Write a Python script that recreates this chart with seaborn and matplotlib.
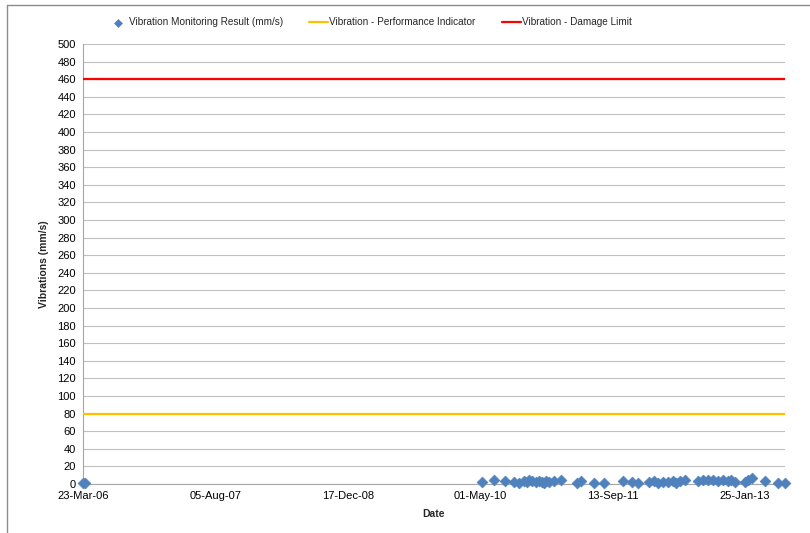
import pandas as pd
import numpy as np
import matplotlib
matplotlib.use('Agg')
import matplotlib.pyplot as plt
import matplotlib.dates as mdates
from matplotlib.lines import Line2D
import seaborn as sns

# monitoring readings
dates = ['2006-03-23', '2006-03-30',
         '2010-05-07', '2010-06-23', '2010-08-03', '2010-09-06', '2010-09-25',
         '2010-10-14', '2010-10-24', '2010-11-02', '2010-11-13', '2010-11-28',
         '2010-12-09', '2010-12-21', '2010-12-28', '2011-01-05', '2011-01-16',
         '2011-02-04', '2011-03-02', '2011-05-02', '2011-05-17', '2011-07-05',
         '2011-08-12', '2011-10-24', '2011-11-24', '2011-12-20', '2012-01-27',
         '2012-02-15', '2012-03-04', '2012-03-23', '2012-04-11', '2012-04-30',
         '2012-05-11', '2012-05-26', '2012-06-14', '2012-08-02', '2012-08-21',
         '2012-09-09', '2012-09-28', '2012-10-17', '2012-11-04', '2012-11-23',
         '2012-12-05', '2012-12-20', '2013-01-25', '2013-02-05', '2013-02-20',
         '2013-04-10', '2013-05-29', '2013-06-25']
vibrations = [1, 1,
              2, 4, 3, 2, 1,
              3, 2, 4, 3, 2,
              3, 2, 1, 3, 2,
              3, 4, 1, 3, 1,
              1, 3, 2, 1, 2,
              3, 1, 2, 2, 3,
              1, 3, 4, 3, 4,
              5, 4, 3, 4, 3,
              5, 2, 2, 4, 7,
              3, 1, 1]

limit_x = ['2006-03-23', '2013-06-25']
perf_indicator = [80, 80]
damage_limit = [460, 460]

tick_dates = ['2006-03-23', '2007-08-05', '2008-12-17', '2010-05-01', '2011-09-13', '2013-01-25']
y_ticks = list(range(0, 501, 20))

df = pd.DataFrame({'Date': pd.to_datetime(dates), 'Vibration': vibrations})
lim = pd.DataFrame({'Date': pd.to_datetime(limit_x), 'perf': perf_indicator, 'damage': damage_limit})

sns.set_style('white')
plt.rcParams['font.family'] = ['Liberation Sans', 'DejaVu Sans']

fig = plt.figure(figsize=(8.1, 5.33), dpi=100)
ax = fig.add_axes([0.1025, 0.092, 0.8665, 0.8255])

sns.lineplot(data=lim, x='Date', y='perf', color='#FFC000', linewidth=1.6, ax=ax,
             label='Vibration - Performance Indicator', zorder=3)
sns.lineplot(data=lim, x='Date', y='damage', color='#FF0000', linewidth=1.6, ax=ax,
             label='Vibration - Damage Limit', zorder=3)
sns.scatterplot(data=df, x='Date', y='Vibration', marker='D', s=30, color='#4F81BD',
                edgecolor='#4F81BD', linewidth=0.5, ax=ax, zorder=4, clip_on=False,
                label='Vibration Monitoring Result (mm/s)')

ax.set_xlim(pd.to_datetime(limit_x[0]), pd.to_datetime(limit_x[1]))
ax.set_ylim(0, 500)
ax.set_yticks(y_ticks)
ax.set_xticks(pd.to_datetime(tick_dates))
ax.xaxis.set_major_formatter(mdates.DateFormatter('%d-%b-%y'))
ax.grid(axis='y', color='#BFBFBF', linewidth=0.8)
ax.grid(axis='x', visible=False)
ax.set_axisbelow(True)

for side in ['top', 'right']:
    ax.spines[side].set_visible(False)
for side in ['left', 'bottom']:
    ax.spines[side].set_color('#A6A6A6')
    ax.spines[side].set_linewidth(0.8)
ax.tick_params(axis='both', labelsize=8, labelcolor='black', length=3, width=0.8,
               direction='out', color='#A6A6A6', pad=2)

ax.set_xlabel('Date', fontsize=7.5, fontweight='bold', labelpad=6)
ax.set_ylabel('Vibrations (mm/s)', fontsize=7.5, fontweight='bold', labelpad=6)

handles, labels = ax.get_legend_handles_labels()
order = [2, 0, 1]
leg = ax.legend([handles[i] for i in order], [labels[i] for i in order],
                loc='center', bbox_to_anchor=(0.457, 0.958), bbox_transform=fig.transFigure,
                ncol=3, frameon=False, fontsize=7.2, handlelength=1.9, columnspacing=2.6,
                handletextpad=0.15)
leg.legend_handles[0].set_sizes([16])

# chart area border (top and left edges visible in the crop)
fig.add_artist(Line2D([7 / 810, 1], [1 - 5 / 533, 1 - 5 / 533], transform=fig.transFigure,
                      color='#8C8C8C', linewidth=1.0))
fig.add_artist(Line2D([7 / 810, 7 / 810], [0, 1 - 5 / 533], transform=fig.transFigure,
                      color='#8C8C8C', linewidth=1.0))

fig.savefig('out.png', dpi=100)
